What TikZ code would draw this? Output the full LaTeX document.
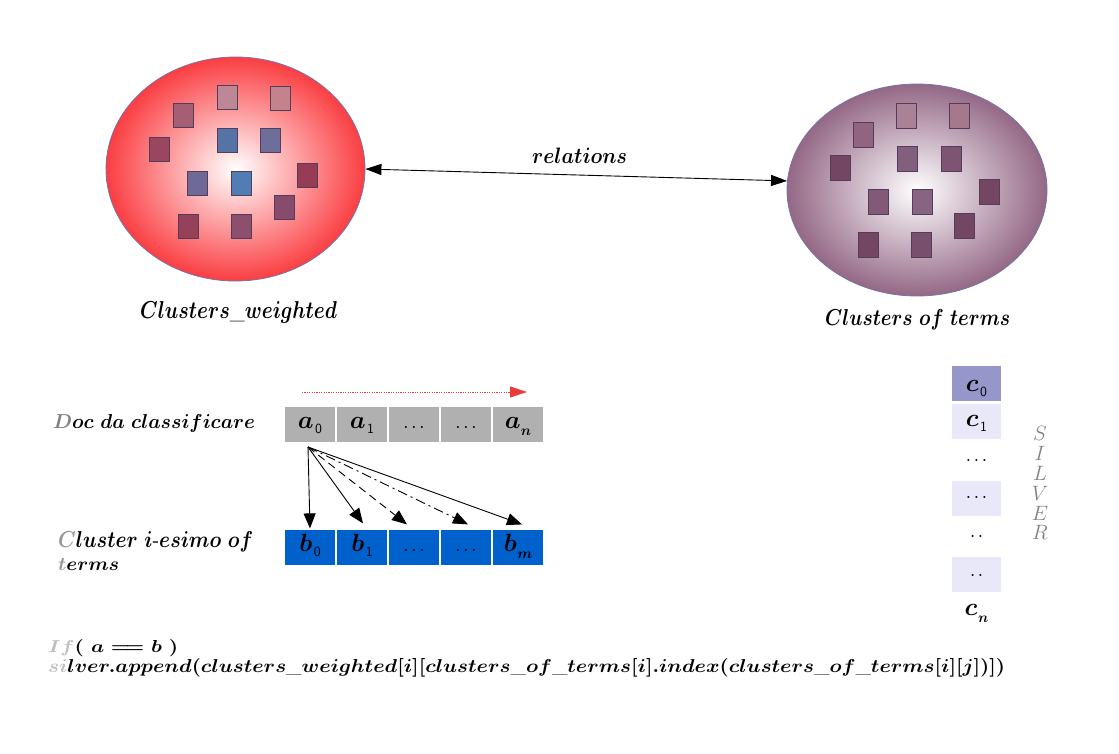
\documentclass[tikz,border=0pt]{standalone}
\usepackage{graphicx}
\usetikzlibrary{shapes.geometric,arrows.meta,calc}
\definecolor{redout}{RGB}{250,62,66}
\definecolor{purpout}{RGB}{148,104,134}
\definecolor{edgec}{RGB}{120,115,165}
\definecolor{sqedge}{RGB}{85,60,90}
\definecolor{cellgray}{RGB}{176,176,176}
\definecolor{cellblue}{RGB}{0,96,204}
\definecolor{cdark}{RGB}{150,150,202}
\definecolor{clight}{RGB}{232,232,248}
\definecolor{arrred}{RGB}{232,60,60}
\definecolor{silvergray}{RGB}{130,130,130}
\definecolor{lettergray}{RGB}{150,150,150}
\definecolor{lightgray}{RGB}{190,190,190}
\newcommand{\csub}[1]{\kern1.5pt\raisebox{-5pt}{\fontsize{14}{14}\selectfont\sffamily #1}}
\newcommand{\nsub}{\kern0.5pt\raisebox{-7pt}{\fontsize{15}{15}\selectfont\boldmath$n$}}
\newcommand{\msub}{\kern0.5pt\raisebox{-7pt}{\fontsize{15}{15}\selectfont\boldmath$m$}}
\newcommand{\bv}[1]{{\boldmath$#1$}}
\newcommand{\mydots}{{\fontsize{25}{25}\selectfont.\kern1.8pt.\kern1.8pt.}}
\newcommand{\twodots}{{\fontsize{25}{25}\selectfont.\kern1.5pt.}}
\newcommand{\bm}[1]{{\boldmath$#1$}}
\begin{document}
\begin{tikzpicture}[x=1pt,y=-1pt,
  blob/.style={ellipse, inner sep=0pt, draw=edgec, line width=0.8pt},
  sq/.style={rectangle, minimum width=20pt, minimum height=24pt, inner sep=0pt, draw=sqedge, line width=0.5pt},
  cellbase/.style={rectangle, draw=white, line width=1.2pt, minimum width=52pt, minimum height=37pt, inner sep=0pt, text height=12pt, text depth=4pt, font=\fontsize{26}{28}\selectfont},
  cella/.style={cellbase, fill=cellgray},
  cellb/.style={cellbase, fill=cellblue},
  cellc/.style={cellbase, minimum width=51pt, fill=clight},
  lbl/.style={anchor=base west, inner sep=0pt},
  silv/.style={inner sep=0pt, text=silvergray, font=\fontsize{21}{21}\selectfont},
  head/.style={-{Triangle[length=15pt,width=12pt]}, line width=0.9pt},
]
\fill[white] (0,0) rectangle (1119,753);
\useasboundingbox (0,0) rectangle (1119,753);

% ellipses
\node[blob, minimum width=259pt, minimum height=224pt, inner color=white, outer color=redout] (red) at (235.5,169) {};
\node[blob, minimum width=260pt, minimum height=212pt, inner color=white, outer color=purpout] (purp) at (917,190) {};

% squares in red cluster
\foreach \x/\y/\r/\g/\b [count=\k] in {
  227/97/190/135/150, 280/98/195/130/140, 183/115/165/95/115, 159/149/155/70/95,
  227/140/85/115/165, 270/140/110/110/155, 197/183/110/105/150, 241/183/80/125/180,
  307/175/150/60/85, 284/207/135/75/110, 188/226/150/65/90, 241/226/140/80/110}{
  \definecolor{tmpc}{RGB}{\r,\g,\b}
  \node[sq, fill=tmpc] (rs\k) at (\x,\y) {};
}
% squares in purple cluster
\foreach \x/\y/\r/\g/\b [count=\k] in {
  906/116/170/130/150, 959/116/165/120/140, 863/135/145/100/130, 840/168/115/70/100,
  907/159/130/95/125, 951/159/125/85/115, 878/202/130/90/120, 922/202/135/100/130,
  989/192/115/70/100, 964/226/115/70/100, 868/245/115/70/100, 921/245/120/80/110}{
  \definecolor{tmpc}{RGB}{\r,\g,\b}
  \node[sq, fill=tmpc, minimum height=25pt] (ps\k) at (\x,\y) {};
}

% relations arrow
\draw[{Triangle[length=16pt,width=11pt]}-{Triangle[length=16pt,width=11pt]}, line width=0.9pt] (red.east) -- (purp.176);
\node[lbl] (rel) at (532,163) {\resizebox{95pt}{15.5pt}{\bm{relations}}};

% cluster labels
\node[lbl] (lcw) at (140,318) {\resizebox{197pt}{17pt}{\bm{Clusters\_weighted}}};
\node[lbl] (lct) at (825,325) {\resizebox{185pt}{16pt}{\bm{Clusters\ of\ terms}}};

% red dotted arrow
\coordinate (rd1) at (302,392);
\coordinate (rd2) at (527,392);
\draw[arrred, line width=1pt, dash pattern=on 1.2pt off 1.2pt, -{Triangle[length=17pt,width=11pt]}] (rd1) -- (rd2);

% row labels
\node[lbl] (ldoc) at (53,428) {\resizebox{202pt}{14pt}{\bm{{\color{gray}D}oc\ da\ classificare}}};
\node[lbl] (lcl) at (58,547) {\resizebox{195pt}{16pt}{\bm{{\color{lettergray}C}luster\ i\mbox{-}esimo\ of}}};
\node[lbl] (lterms) at (58,570) {\resizebox{61pt}{12pt}{\bm{{\color{lettergray}t}erms}}};

% a row
\node[cella] (a0) at (310,424.5) {\bv{a}\csub{0}};
\node[cella] (a1) at (362,424.5) {\bv{a}\csub{1}};
\node[cella] (a2) at (414,424.5) {\mydots};
\node[cella] (a3) at (466,424.5) {\mydots};
\node[cella] (a4) at (518,424.5) {\bv{a}\nsub};

% b row
\node[cellb] (b0) at (310,547.5) {\bv{b}\csub{0}};
\node[cellb] (b1) at (362,547.5) {\bv{b}\csub{1}};
\node[cellb] (b2) at (414,547.5) {\mydots};
\node[cellb] (b3) at (466,547.5) {\mydots};
\node[cellb] (b4) at (518,547.5) {\bv{b}\msub};

% arrows from a0
\coordinate (src) at (308,447);
\draw[head] (src) -- (b0.north);
\draw[head] (src) -- ($(b1.north)+(1,-5)$);
\draw[head, dash pattern=on 8pt off 5pt] (src) -- ($(b2.north)+(-7,-4)$);
\draw[head, dash pattern=on 10pt off 4pt on 2pt off 4pt] (src) -- ($(b3.north)+(2,-4)$);
\draw[head] (src) -- ($(b4.north)+(4,-4)$);

% c column
\node[cellc, fill=cdark] (c0) at (976.5,383.5) {\raisebox{-4pt}{\bv{c}\csub{0}}};
\node[cellc] (c1) at (976.5,421.5) {\raisebox{-1pt}{\bv{c}\csub{1}}};
\node[anchor=base, inner sep=0pt] (cd1) at (976.5,461) {\mydots};
\node[cellc] (c3) at (976.5,498.5) {\raisebox{4pt}{\mydots}};
\node[anchor=base, inner sep=0pt] (cd2) at (976.5,537.5) {\twodots};
\node[cellc] (c5) at (976.5,574.5) {\raisebox{2pt}{\twodots}};
\node[anchor=base, inner sep=0pt, font=\fontsize{26}{28}\selectfont] (cn) at (976.5,615) {\bv{c}\nsub};

% SILVER
\foreach \L [count=\k] in {S,I,L,V,E,R}
  \node[silv] (sv\k) at (1040,414+19.8*\k) {$\L$};

% code lines
\node[lbl] (code1) at (48,652) {\resizebox{130pt}{13pt}{\bm{{\color{lightgray}If}(\ a=\!=b\ )}}};
\node[lbl] (code2) at (48,672) {\resizebox{957pt}{14pt}{\bm{{\color{lightgray}si}lver.append(clusters\_weighted[i][clusters\_of\_terms[i].index(clusters\_of\_terms[i][j])])}}};
\end{tikzpicture}
\end{document}
